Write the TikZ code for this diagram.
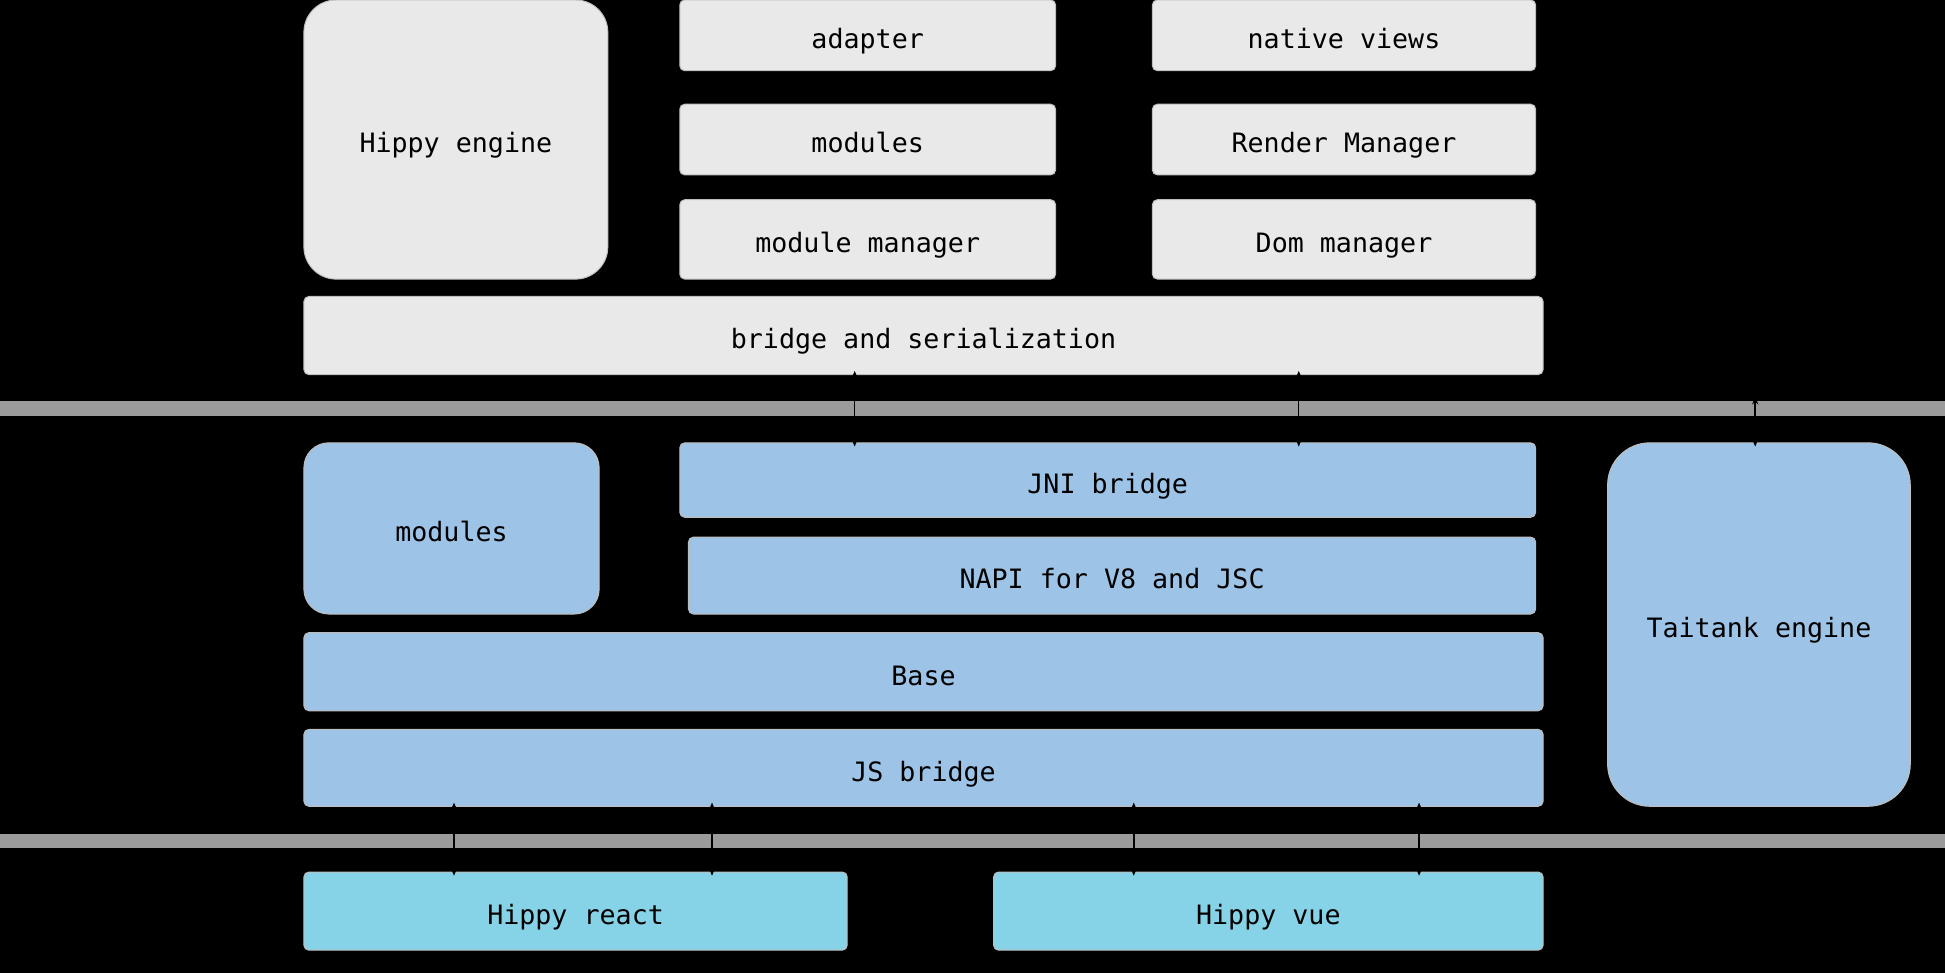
\documentclass[tikz,border=0pt]{standalone}
\usepackage{fontspec}
\setmonofont{DejaVu Sans Mono}
\usetikzlibrary{arrows.meta}
\definecolor{boxgray}{HTML}{E9E9E9}
\definecolor{boxblue}{HTML}{9DC3E6}
\definecolor{boxcyan}{HTML}{86D3E7}
\definecolor{bandgray}{HTML}{9B9B9B}
\definecolor{edgegray}{HTML}{BEBEBE}
\tikzset{
  blk/.style={anchor=north west, inner sep=0pt, outer sep=0pt, text=black,
    font=\ttfamily\fontsize{21.5}{26}\selectfont, rounded corners=4pt,
    text height=27pt, text depth=5.4pt, draw=edgegray, line width=0.8pt},
  gbox/.style={blk, fill=boxgray},
  bbox/.style={blk, fill=boxblue},
  cbox/.style={blk, fill=boxcyan},
  band/.style={anchor=north west, inner sep=0pt, outer sep=0pt, fill=bandgray,
    minimum width=1568pt, minimum height=12pt},
  arr/.style={{Stealth[length=6pt,width=5pt]}-{Stealth[length=6pt,width=5pt]}, line width=1.2pt, black, shorten <=-3pt, shorten >=-3pt},
}
\begin{document}
\begin{tikzpicture}[x=1pt,y=1pt]
\fill[black] (0,0) rectangle (1568,-784);
\useasboundingbox (0,0) rectangle (1568,-784);
% gray layer
\node[gbox, rounded corners=26pt, minimum width=245pt, minimum height=225pt] (hippy) at (245,0) {Hippy engine};
\node[gbox, minimum width=303pt, minimum height=57pt] (adapter) at (548,0) {adapter};
\node[gbox, minimum width=303pt, minimum height=57pt] (gmodules) at (548,-84) {modules};
\node[gbox, minimum width=303pt, minimum height=64pt] (modmgr) at (548,-161) {module manager};
\node[gbox, minimum width=309pt, minimum height=57pt] (native) at (929,0) {native views};
\node[gbox, minimum width=309pt, minimum height=57pt] (render) at (929,-84) {Render Manager};
\node[gbox, minimum width=309pt, minimum height=64pt] (dom) at (929,-161) {Dom manager};
\node[gbox, minimum width=999pt, minimum height=63pt] (bridge) at (245,-239) {bridge and serialization};
% bands
\node[band] (band1) at (0,-323) {};
\node[band] (band2) at (0,-672) {};
% blue layer
\node[bbox, rounded corners=20pt, minimum width=238pt, minimum height=138pt] (bmodules) at (245,-357) {modules};
\node[bbox, minimum width=690pt, minimum height=60pt] (jni) at (548,-357) {JNI bridge};
\node[bbox, minimum width=683pt, minimum height=62pt] (napi) at (555,-433) {NAPI for V8 and JSC};
\node[bbox, minimum width=999pt, minimum height=63pt] (base) at (245,-510) {Base};
\node[bbox, minimum width=999pt, minimum height=62pt] (jsb) at (245,-588) {JS bridge};
\node[bbox, rounded corners=34pt, minimum width=244pt, minimum height=293pt] (tai) at (1296,-357) {Taitank engine};
% cyan layer
\node[cbox, minimum width=438pt, minimum height=63pt] (react) at (245,-703) {Hippy react};
\node[cbox, minimum width=443pt, minimum height=63pt] (vue) at (801,-703) {Hippy vue};
% connectors
\draw[arr] (bridge.south -| 689,0) -- (jni.north -| 689,0);
\draw[arr] (bridge.south -| 1047,0) -- (jni.north -| 1047,0);
\draw[arr] (band1.north -| 1415,0) -- (tai.north -| 1415,0);
\draw[arr] (jsb.south -| 366,0) -- (react.north -| 366,0);
\draw[arr] (jsb.south -| 574,0) -- (react.north -| 574,0);
\draw[arr] (jsb.south -| 914,0) -- (vue.north -| 914,0);
\draw[arr] (jsb.south -| 1144,0) -- (vue.north -| 1144,0);
\end{tikzpicture}
\end{document}
